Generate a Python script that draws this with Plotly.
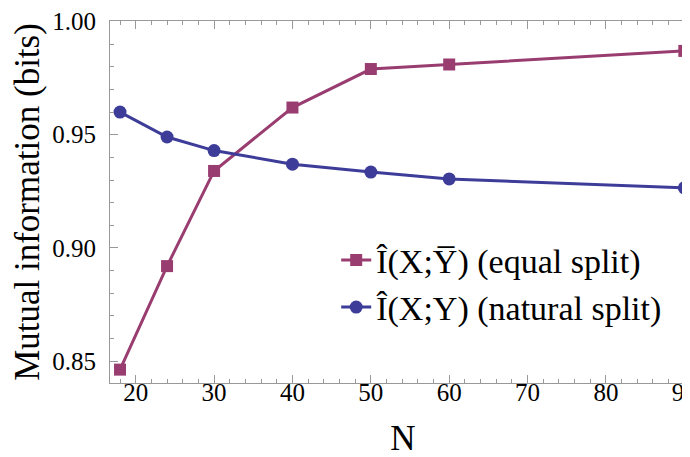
import plotly.graph_objects as go

N = [18, 24, 30, 40, 50, 60, 90]
equal_split = [0.8463, 0.892, 0.934, 0.962, 0.979, 0.981, 0.987]
natural_split = [0.960, 0.949, 0.943, 0.937, 0.9335, 0.9305, 0.9265]

magenta = "#993D71"
blue = "#3D3D99"
font = "Liberation Serif"

fig = go.Figure()
fig.add_trace(go.Scatter(
    x=N, y=equal_split, mode="lines+markers",
    name="Î(X;Y\u0305) (equal split)",
    line=dict(color=magenta, width=3),
    marker=dict(symbol="square", size=12, color=magenta),
))
fig.add_trace(go.Scatter(
    x=N, y=natural_split, mode="lines+markers",
    name="Î(X;Y) (natural split)",
    line=dict(color=blue, width=3),
    marker=dict(symbol="circle", size=13, color=blue),
))

tick_font = dict(family=font, size=25, color="black")
title_font = dict(family=font, size=35, color="black")

fig.update_xaxes(
    range=[16.72, 91.49], tickvals=[20, 30, 40, 50, 60, 70, 80, 90],
    showgrid=False, zeroline=False, showline=True, mirror="ticks",
    linecolor="#999999", linewidth=1, ticks="inside", tickcolor="#999999",
    ticklen=8, tickfont=tick_font, automargin=False, ticklabelstandoff=-13,
    minor=dict(dtick=2, ticks="inside", ticklen=4, tickcolor="#999999"),
    title=dict(text="N", font=title_font, standoff=20),
)
fig.update_yaxes(
    range=[0.8404, 1.0002], tickvals=[0.85, 0.90, 0.95, 1.00], tickformat=".2f",
    showgrid=False, zeroline=False, showline=True, mirror="ticks",
    linecolor="#999999", linewidth=1, ticks="inside", tickcolor="#999999",
    ticklen=8, tickfont=tick_font, automargin=False, ticklabelstandoff=8,
    minor=dict(dtick=0.01, ticks="inside", ticklen=4, tickcolor="#999999"),
    title=dict(text="Mutual information (bits)", font=title_font, standoff=14),
)
fig.update_layout(
    width=690, height=457,
    margin=dict(l=102, r=2, t=13, b=82),
    font=dict(family=font, color="black"),
    plot_bgcolor="white", paper_bgcolor="white",
    legend=dict(x=0.386, y=0.419, xanchor="left", yanchor="top",
                font=dict(family=font, size=34, color="black"),
                bgcolor="rgba(0,0,0,0)", tracegroupgap=0),
)
fig.write_html("out.html")
